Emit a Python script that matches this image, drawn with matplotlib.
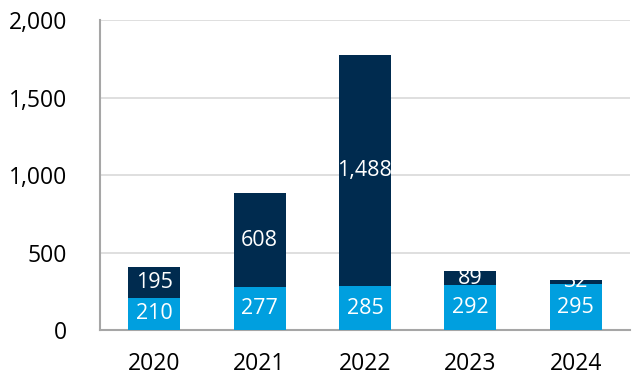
import matplotlib.pyplot as plt
import numpy as np

plt.rcParams['font.family'] = ['Open Sans', 'DejaVu Sans']

years = ['2020', '2021', '2022', '2023', '2024']
base = [210, 277, 285, 292, 295]
top = [195, 608, 1488, 89, 32]

fig = plt.figure(figsize=(6.38, 3.84), dpi=100)
ax = fig.add_axes([0.157, 0.14, 0.831, 0.808])

x = np.arange(len(years))
w = 0.494
b1 = ax.bar(x, base, w, color='#009fdf', zorder=3)
b2 = ax.bar(x, top, w, bottom=base, color='#002b4f', zorder=3)

for bars, vals, offs in [(b1, base, [0] * 5), (b2, top, base)]:
    for bar, v, o in zip(bars, vals, offs):
        ax.text(bar.get_x() + bar.get_width() / 2, o + v / 2, f'{v:,}',
                ha='center', va='center', color='white', fontsize=15.5, zorder=4)

ax.set_xlim(-0.513, 4.52)
ax.set_ylim(0, 2000)
ax.set_yticks([0, 500, 1000, 1500, 2000])
ax.set_yticklabels(['0', '500', '1,000', '1,500', '2,000'])
ax.set_xticks(x)
ax.set_xticklabels(years)
ax.tick_params(length=0, labelsize=16.5, pad=16)
ax.tick_params(axis='y', pad=24)
ax.grid(axis='y', color='#d9d9d9', linewidth=1.2, zorder=0)
for s in ['top', 'right']:
    ax.spines[s].set_visible(False)
for s in ['left', 'bottom']:
    ax.spines[s].set_color('#a6a6a6')
    ax.spines[s].set_linewidth(1.5)

fig.savefig('out.png', dpi=100)
